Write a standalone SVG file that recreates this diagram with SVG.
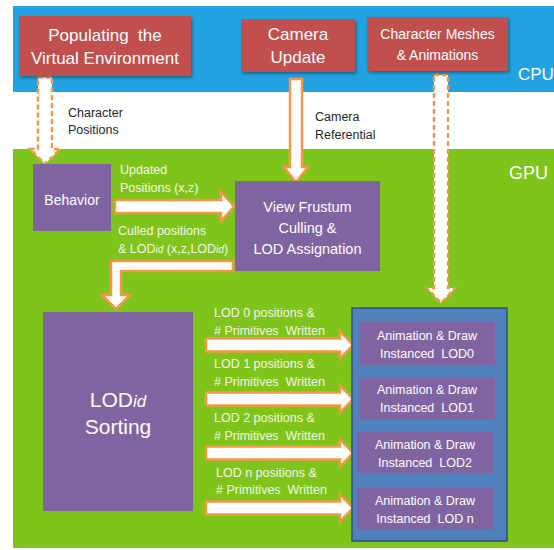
<svg xmlns="http://www.w3.org/2000/svg" width="554" height="550" viewBox="0 0 554 550">
<defs>
<style>
.t{font-family:"Liberation Sans",Arial,sans-serif}
.box{stroke:none}
.red{fill:#c0504d}
.pur{fill:#8064a2}
.wt{fill:#ffffff}
.lt{fill:#f4f6e6}
.dk{fill:#262626}
.arr{fill:#ffffff;stroke:#f79646;stroke-width:2.5;stroke-linejoin:miter}
.dash{stroke-dasharray:5 3}
</style>
<filter id="sh" x="-10%" y="-10%" width="130%" height="130%">
<feDropShadow dx="1.5" dy="2" stdDeviation="1.5" flood-color="#000" flood-opacity="0.35"/>
</filter>
</defs>
<rect width="554" height="550" fill="#ffffff"/>
<g id="cpu-band">
<rect x="13" y="6" width="541" height="86" fill="#22a2e3"/>
<text class="t wt" x="518" y="80" font-size="17">CPU</text>
</g>
<g id="gpu-band">
<rect x="13" y="149" width="541" height="399" fill="#7fc41b"/>
<text class="t wt" x="509" y="179" font-size="18">GPU</text>
</g>

<g id="connectors">
<path class="arr dash" d="M38,77 H52 V149 H60 L45,164 L30,149 H38 Z"/>
<path class="arr" d="M290,79 H302 V167 H308 L296,182 L284,167 H290 Z"/>
<path class="arr dash" d="M434,75 H448 V288 H455 L441,303 L427,288 H434 Z"/>
<path class="arr" d="M115,200 H221 V192 L234,206.5 L221,221 V213 H115 Z"/>
<path class="arr" d="M233,261 V271 H121 V295 H130 L116,309 L102,295 H111 V261 Z"/>
<path class="arr" d="M206,338.5 H340 V331.5 L353,345 L340,358.5 V351.5 H206 Z"/>
<path class="arr" d="M206,392.5 H340 V385.5 L353,399 L340,412.5 V405.5 H206 Z"/>
<path class="arr" d="M206,446.5 H340 V439.5 L353,453 L340,466.5 V459.5 H206 Z"/>
<path class="arr" d="M206,501.5 H340 V494.5 L353,508 L340,521.5 V514.5 H206 Z"/>
<text class="t dk" font-size="12.5"><tspan x="68" y="117">Character</tspan><tspan x="68" y="134">Positions</tspan></text>
<text class="t dk" font-size="12.5"><tspan x="315" y="121">Camera</tspan><tspan x="315" y="139">Referential</tspan></text>
<text class="t lt" font-size="12.5"><tspan x="120" y="174">Updated</tspan><tspan x="120" y="192">Positions (x,z)</tspan></text>
<text class="t lt" font-size="12.5"><tspan x="118" y="235">Culled positions</tspan><tspan x="118" y="253">&amp; LOD<tspan font-style="italic" font-size="10">id</tspan> (x,z,LOD<tspan font-style="italic" font-size="10">id</tspan>)</tspan></text>
<text class="t lt" font-size="12.5"><tspan x="214" y="317">LOD 0 positions &amp;</tspan><tspan x="214" y="335">#&#160;Primitives&#160;&#160;Written</tspan></text>
<text class="t lt" font-size="12.5"><tspan x="214" y="368">LOD 1 positions &amp;</tspan><tspan x="214" y="386">#&#160;Primitives&#160;&#160;Written</tspan></text>
<text class="t lt" font-size="12.5"><tspan x="214" y="422">LOD 2 positions &amp;</tspan><tspan x="214" y="440">#&#160;Primitives&#160;&#160;Written</tspan></text>
<text class="t lt" font-size="12.5"><tspan x="216" y="477">LOD n positions &amp;</tspan><tspan x="216" y="494">#&#160;Primitives&#160;&#160;Written</tspan></text>
</g>

<g id="populating">
<rect class="red" x="19" y="16" width="172" height="60" filter="url(#sh)"/>
<text class="t wt" font-size="17" text-anchor="middle"><tspan x="105" y="41">Populating&#160;&#160;the</tspan><tspan x="105" y="64">Virtual Environment</tspan></text>
</g>
<g id="camera-update">
<rect class="red" x="241" y="19" width="114" height="53" filter="url(#sh)"/>
<text class="t wt" font-size="17" text-anchor="middle"><tspan x="298" y="40">Camera</tspan><tspan x="298" y="63">Update</tspan></text>
</g>
<g id="char-meshes">
<rect class="red" x="367" y="17" width="141" height="54" filter="url(#sh)"/>
<text class="t wt" font-size="14" text-anchor="middle"><tspan x="437.5" y="39">Character Meshes</tspan><tspan x="437.5" y="60">&amp; Animations</tspan></text>
</g>
<g id="behavior">
<rect class="pur" x="33" y="164" width="78" height="67"/>
<text class="t wt" font-size="14" text-anchor="middle" x="72" y="205">Behavior</text>
</g>
<g id="view-frustum">
<rect class="pur" x="235" y="181" width="145" height="90"/>
<text class="t wt" font-size="14.5" text-anchor="middle"><tspan x="307.5" y="212">View Frustum</tspan><tspan x="307.5" y="233">Culling &amp;</tspan><tspan x="307.5" y="254">LOD Assignation</tspan></text>
</g>
<g id="lod-sorting">
<rect class="pur" x="43" y="312" width="150" height="199"/>
<text class="t wt" font-size="21" text-anchor="middle"><tspan x="118" y="407">LOD<tspan font-style="italic" font-size="17">id</tspan></tspan><tspan x="118" y="434">Sorting</tspan></text>
</g>
<g id="draw-container">
<rect x="352" y="308" width="155" height="233" fill="#4f81bd" stroke="#2c5282" stroke-width="1.5"/>
</g>
<g id="lod0">
<rect class="pur" x="359" y="322" width="136" height="43"/>
<text class="t wt" font-size="12.5" text-anchor="middle"><tspan x="427" y="340">Animation &amp; Draw</tspan><tspan x="427" y="358">Instanced&#160;&#160;LOD0</tspan></text>
</g>
<g id="lod1">
<rect class="pur" x="359" y="377" width="136" height="42"/>
<text class="t wt" font-size="12.5" text-anchor="middle"><tspan x="427" y="394">Animation &amp; Draw</tspan><tspan x="427" y="412">Instanced&#160;&#160;LOD1</tspan></text>
</g>
<g id="lod2">
<rect class="pur" x="357" y="432" width="136" height="41"/>
<text class="t wt" font-size="12.5" text-anchor="middle"><tspan x="425" y="449">Animation &amp; Draw</tspan><tspan x="425" y="467">Instanced&#160;&#160;LOD2</tspan></text>
</g>
<g id="lodn">
<rect class="pur" x="357" y="488" width="136" height="42"/>
<text class="t wt" font-size="12.5" text-anchor="middle"><tspan x="425" y="505">Animation &amp; Draw</tspan><tspan x="425" y="523">Instanced&#160;&#160;LOD n</tspan></text>
</g>
</svg>
